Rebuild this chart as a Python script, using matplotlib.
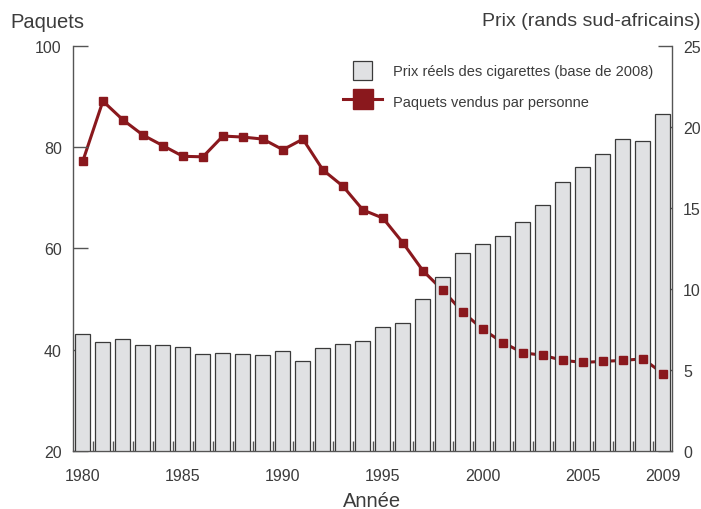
import matplotlib
matplotlib.use("Agg")
import matplotlib.pyplot as plt
from matplotlib.lines import Line2D
from matplotlib.patches import Patch, Rectangle
from matplotlib.legend_handler import HandlerPatch

plt.rcParams['font.family'] = ['Liberation Sans', 'DejaVu Sans']

years = list(range(1980, 2010))
prix = [7.22, 6.73, 6.91, 6.54, 6.56, 6.39, 6.00, 6.02, 5.98, 5.90,
        6.17, 5.53, 6.33, 6.62, 6.76, 7.63, 7.90, 9.36, 10.73, 12.25,
        12.77, 13.26, 14.15, 15.18, 16.58, 17.53, 18.36, 19.23, 19.12, 20.77]
paquets = [77.3, 89.1, 85.4, 82.4, 80.3, 78.2, 78.1, 82.2, 82.0, 81.6,
           79.5, 81.6, 75.5, 72.3, 67.6, 66.0, 61.1, 55.6, 51.7, 47.4,
           44.0, 41.4, 39.4, 38.9, 37.9, 37.5, 37.7, 37.9, 38.2, 35.3]
xtick_labels = ['1980', '1985', '1990', '1995', '2000', '2005', '2009']
legend_labels = ['Prix réels des cigarettes (base de 2008)', 'Paquets vendus par personne']

red = '#8a181d'
txt = '#3c3c3c'
spine_c = '#555555'
bar_c = '#e0e1e3'
bar_edge = '#3a3a3a'

fig = plt.figure(figsize=(7.01, 5.10), dpi=100)
ax = fig.add_axes([0.104, 0.1137, 0.8546, 0.7943])
ax2 = ax.twinx()
ax3 = ax.twinx()

# line (behind bars)
ax.plot(years, paquets, color=red, lw=2.2, zorder=1, solid_joinstyle='round')
ax.set_ylim(20, 100)
ax.set_xlim(1979.5, 2009.45)

# bars on price axis
ax2.bar(years, prix, width=0.75, color=bar_c, edgecolor=bar_edge, linewidth=0.9, zorder=2)
ax2.set_ylim(0, 25)
ax2.patch.set_visible(False)

# markers on top
ax3.plot(years, paquets, linestyle='none', marker='s', ms=5.5, color=red, zorder=3)
ax3.set_ylim(20, 100)
ax3.axis('off')

for a in (ax, ax2):
    a.spines['top'].set_visible(False)
    for s in a.spines.values():
        s.set_color(spine_c)
        s.set_linewidth(1.0)

ax.spines['right'].set_visible(False)
ax2.spines['left'].set_visible(False)
ax2.spines['bottom'].set_visible(False)

ax.set_yticks([20, 40, 60, 80, 100])
ax.tick_params(axis='y', direction='in', length=11, width=1, color=spine_c,
               labelsize=11.5, labelcolor=txt, pad=8)
ax2.set_yticks([0, 5, 10, 15, 20, 25])
ax2.tick_params(axis='y', direction='in', length=10, width=1, color=spine_c,
                labelsize=11.5, labelcolor=txt, pad=8)

ax.set_xticks([int(l) for l in xtick_labels])
ax.set_xticklabels(xtick_labels)
ax.tick_params(axis='x', which='major', length=0, labelsize=11.5, labelcolor=txt, pad=12.5)
ax.set_xticks([y + 0.5 for y in years[:-1]], minor=True)
ax.tick_params(axis='x', which='minor', direction='in', length=7, width=1, color=spine_c)

fig.text(10 / 701, 1 - 22 / 510, 'Paquets', fontsize=14.5, color=txt, ha='left', va='center')
fig.text(700 / 701, 1 - 22 / 510, 'Prix (rands sud-africains)', fontsize=14, color=txt, ha='right', va='center')
fig.text(372 / 701, 3 / 510, 'Année', fontsize=14.5, color=txt, ha='center', va='baseline')


def square_patch(legend, orig_handle, xdescent, ydescent, width, height, fontsize):
    side = height
    return Rectangle((-xdescent + (width - side) / 2, -ydescent), side, side)


handles = [Patch(facecolor=bar_c, edgecolor=bar_edge, linewidth=0.9),
           Line2D([0], [0], color=red, lw=2.2, marker='s', ms=14.4)]
leg = fig.legend(handles, legend_labels, loc='upper left',
                 bbox_to_anchor=(343 / 701, 1 - 62 / 510), bbox_transform=fig.transFigure,
                 frameon=False, fontsize=10.5, labelcolor=txt, handlelength=2.7,
                 handleheight=1.62, labelspacing=0.84, handletextpad=0.7,
                 borderpad=0, borderaxespad=0,
                 handler_map={Patch: HandlerPatch(patch_func=square_patch)})

fig.savefig('out.png', dpi=100)
